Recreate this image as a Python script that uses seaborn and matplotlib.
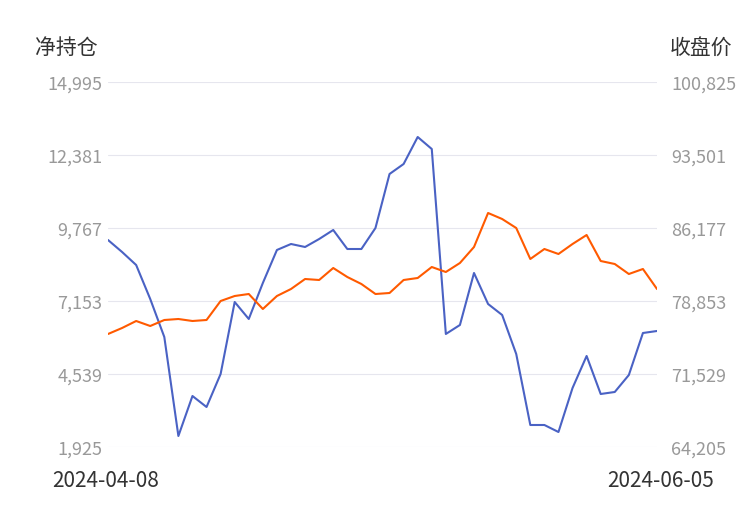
import matplotlib
matplotlib.use("Agg")
import matplotlib.pyplot as plt
import seaborn as sns
import pandas as pd

sns.set_style("white")
plt.rcParams['font.family'] = ['Noto Sans CJK SC', 'DejaVu Sans']

dates = pd.bdate_range("2024-04-08", "2024-06-05")
dates = [d for d in dates if not (d.month == 5 and d.day in (1, 2, 3))][:40]
idx = list(range(40))

net_pos = [9338, 8908, 8442, 7225, 5864, 2319, 3751, 3357, 4539, 7117,
           6509, 7798, 8980, 9194, 9087, 9373, 9696, 9015, 9015, 9767,
           11701, 12059, 13026, 12596, 5972, 6294, 8156, 7046, 6652, 5255,
           2713, 2713, 2462, 4038, 5184, 3823, 3895, 4503, 6007, 6079]
close = [75542, 76144, 76847, 76345, 76947, 77047, 76847, 76947, 78853, 79355,
         79555, 78051, 79355, 80057, 81060, 80960, 82164, 81261, 80559, 79555,
         79656, 80960, 81161, 82264, 81763, 82666, 84271, 87682, 87080, 86177,
         83067, 84070, 83569, 84572, 85475, 82866, 82565, 81562, 82064, 80057]

left_ticks = [1925, 4539, 7153, 9767, 12381, 14995]
right_ticks = [64205, 71529, 78853, 86177, 93501, 100825]
gray = "#999999"

fig = plt.figure(figsize=(7.5, 5.1), dpi=100)
ax = fig.add_axes([108/750, 1-448/510, 549/750, 365/510])
ax2 = ax.twinx()

sns.lineplot(x=idx, y=net_pos, ax=ax, color="#4a62c4", linewidth=1.5)
sns.lineplot(x=idx, y=close, ax=ax2, color="#ff5a00", linewidth=1.5)

ax.set_xlim(0, len(idx) - 1)
ax.set_ylim(left_ticks[0], left_ticks[-1])
ax2.set_ylim(right_ticks[0], right_ticks[-1])
ax.set_yticks(left_ticks)
ax.set_yticklabels([f"{v:,}" for v in left_ticks])
ax2.set_yticks(right_ticks)
ax2.set_yticklabels([f"{v:,}" for v in right_ticks])
ax.grid(axis="y", color="#e6e6ee", linewidth=0.8)
ax.set_xticks([])
for a in (ax, ax2):
    for s in a.spines.values():
        s.set_visible(False)
    a.tick_params(axis="y", length=0, labelsize=13, labelcolor=gray, pad=4)
ax2.tick_params(axis="y", pad=10)
ax.set_ylabel("")
ax2.set_ylabel("")

fig.text(35/750, 1-48/510, "净持仓", fontsize=15, color="#333333", va="center", ha="left")
fig.text(732/750, 1-48/510, "收盘价", fontsize=15, color="#333333", va="center", ha="right")
fig.text(52/750, 1-481/510, dates[0].strftime("%Y-%m-%d"), fontsize=15, color="#333333", va="center", ha="left")
fig.text(714/750, 1-481/510, dates[-1].strftime("%Y-%m-%d"), fontsize=15, color="#333333", va="center", ha="right")

fig.savefig("out.png", dpi=100)
